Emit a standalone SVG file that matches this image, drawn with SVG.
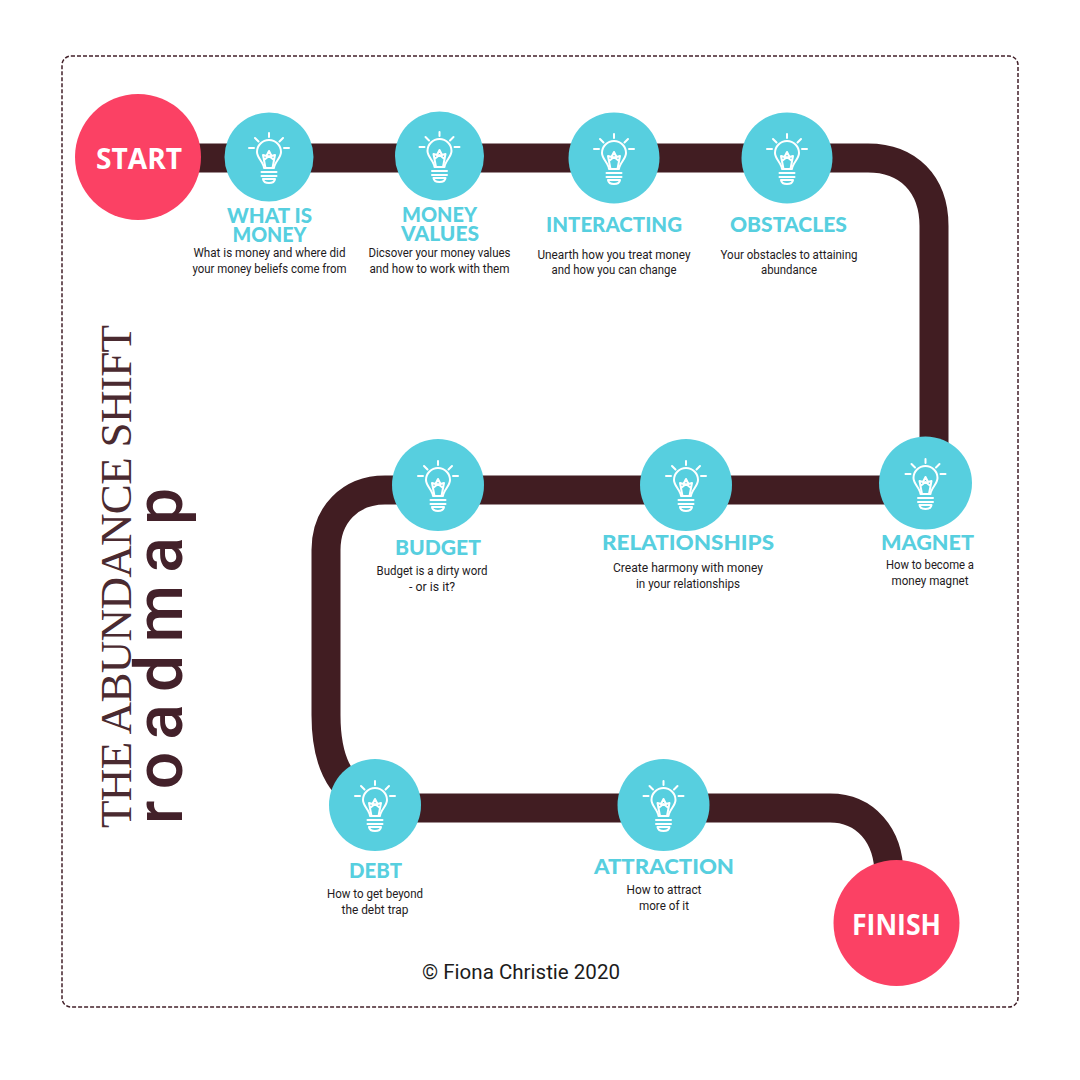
<svg xmlns="http://www.w3.org/2000/svg" xmlns:xlink="http://www.w3.org/1999/xlink" width="1080" height="1080" viewBox="0 0 1080 1080">
<style>
.h{font-family:"Lato","Liberation Sans",sans-serif;font-weight:900;font-size:20.500px;fill:#57cfdf;text-anchor:middle}
.s{font-family:"Roboto","Liberation Sans",sans-serif;font-size:12.500px;fill:#231a1c;text-anchor:middle}
.c{fill:#57cfdf}
.r{fill:#fb4164}
.rt{font-family:"Open Sans","Liberation Sans",sans-serif;font-weight:700;fill:#fff;text-anchor:middle;font-size:29px}
.b{fill:none;stroke:#fff;stroke-width:2;stroke-linecap:round;stroke-linejoin:round}
</style>
<defs>
<g id="bulb" class="b">
<path d="M-5,11 C-5.500,5 -12,1 -12,-5 A12,12 0 1 1 12,-5 C12,1 5.500,5 5,11 Z"/>
<path d="M-3.500,11 L-6,-2 L-2.500,-1 L0,-6 L2.500,-1 L6,-2 L3.500,11 M-5,3 L0,-1 L5,3"/>
<path d="M-7.500,15 H7.500 M-7.500,19 H7.500"/>
<path d="M-6,22 H6 C5.500,25 3,26 0,26 C-3,26 -5.500,25 -6,22 Z"/>
<path d="M0,-24 V-20 M-14,-19 L-10.500,-15.500 M14,-19 L10.500,-15.500 M-20,-9 H-15 M15,-9 H20"/>
</g>
</defs>
<rect width="1080" height="1080" fill="#fff"/>
<rect x="62" y="56" width="956" height="951" rx="9" fill="none" stroke="#43212a" stroke-width="1.500" stroke-dasharray="4 2"/>
<g id="connectors">
<path d="M140,158 H868 C908,158 934,184 934,226 V490 H385 C350,490 326,515 326,550 V715 C326,775 350,808 410,808 H830 C865,808 889,835 889,875" fill="none" stroke="#411d22" stroke-width="29"/>
</g>
<g id="start"><circle class="r" cx="138" cy="157" r="63"/><text class="rt" x="139" y="169" textLength="86" lengthAdjust="spacingAndGlyphs">START</text></g>
<g id="what-is-money"><circle class="c" cx="269" cy="157" r="44.500"/><use xlink:href="#bulb" href="#bulb" x="269" y="157"/><text class="h" x="269.500" y="223" textLength="85" lengthAdjust="spacingAndGlyphs">WHAT IS</text><text class="h" x="269.500" y="242" textLength="74" lengthAdjust="spacingAndGlyphs">MONEY</text><text class="s" x="269.500" y="257" textLength="152" lengthAdjust="spacingAndGlyphs">What is money and where did</text><text class="s" x="269.500" y="273" textLength="154" lengthAdjust="spacingAndGlyphs">your money beliefs come from</text></g>
<g id="money-values"><circle class="c" cx="439.500" cy="156" r="44.500"/><use xlink:href="#bulb" href="#bulb" x="439.500" y="156"/><text class="h" x="439.500" y="222" textLength="75" lengthAdjust="spacingAndGlyphs">MONEY</text><text class="h" x="440" y="241" textLength="78" lengthAdjust="spacingAndGlyphs">VALUES</text><text class="s" x="439.500" y="257" textLength="142" lengthAdjust="spacingAndGlyphs">Dicsover your money values</text><text class="s" x="439.500" y="273" textLength="140" lengthAdjust="spacingAndGlyphs">and how to work with them</text></g>
<g id="interacting"><circle class="c" cx="614" cy="158" r="45.500"/><use xlink:href="#bulb" href="#bulb" x="614" y="158"/><text class="h" x="614" y="232" textLength="136" lengthAdjust="spacingAndGlyphs">INTERACTING</text><text class="s" x="614" y="259" textLength="153" lengthAdjust="spacingAndGlyphs">Unearth how you treat money</text><text class="s" x="614" y="274" textLength="125" lengthAdjust="spacingAndGlyphs">and how you can change</text></g>
<g id="obstacles"><circle class="c" cx="787" cy="158" r="45.500"/><use xlink:href="#bulb" href="#bulb" x="787" y="158"/><text class="h" x="788.500" y="232" textLength="117" lengthAdjust="spacingAndGlyphs">OBSTACLES</text><text class="s" x="789" y="259" textLength="137" lengthAdjust="spacingAndGlyphs">Your obstacles to attaining</text><text class="s" x="789" y="274" textLength="56" lengthAdjust="spacingAndGlyphs">abundance</text></g>
<g id="magnet"><circle class="c" cx="925.500" cy="483" r="46.500"/><use xlink:href="#bulb" href="#bulb" x="925.500" y="483"/><text class="h" x="927.500" y="550" textLength="93" lengthAdjust="spacingAndGlyphs">MAGNET</text><text class="s" x="930" y="569" textLength="88" lengthAdjust="spacingAndGlyphs">How to become a</text><text class="s" x="930" y="585" textLength="77" lengthAdjust="spacingAndGlyphs">money magnet</text></g>
<g id="relationships"><circle class="c" cx="686" cy="485" r="46"/><use xlink:href="#bulb" href="#bulb" x="686" y="485"/><text class="h" x="688" y="550" textLength="172" lengthAdjust="spacingAndGlyphs">RELATIONSHIPS</text><text class="s" x="688" y="572" textLength="150" lengthAdjust="spacingAndGlyphs">Create harmony with money</text><text class="s" x="688" y="588" textLength="104" lengthAdjust="spacingAndGlyphs">in your relationships</text></g>
<g id="budget"><circle class="c" cx="438" cy="485" r="46"/><use xlink:href="#bulb" href="#bulb" x="438" y="485"/><text class="h" x="438" y="555" textLength="86" lengthAdjust="spacingAndGlyphs">BUDGET</text><text class="s" x="432" y="575" textLength="111" lengthAdjust="spacingAndGlyphs">Budget is a dirty word</text><text class="s" x="432" y="591" textLength="46" lengthAdjust="spacingAndGlyphs">- or is it?</text></g>
<g id="debt"><circle class="c" cx="375" cy="805" r="46"/><use xlink:href="#bulb" href="#bulb" x="375" y="805"/><text class="h" x="375.500" y="878" textLength="53" lengthAdjust="spacingAndGlyphs">DEBT</text><text class="s" x="375" y="898" textLength="96" lengthAdjust="spacingAndGlyphs">How to get beyond</text><text class="s" x="375" y="914" textLength="67" lengthAdjust="spacingAndGlyphs">the debt trap</text></g>
<g id="attraction"><circle class="c" cx="663.500" cy="805" r="46"/><use xlink:href="#bulb" href="#bulb" x="663.500" y="805"/><text class="h" x="664" y="874" textLength="140" lengthAdjust="spacingAndGlyphs">ATTRACTION</text><text class="s" x="664" y="894" textLength="75" lengthAdjust="spacingAndGlyphs">How to attract</text><text class="s" x="664" y="910" textLength="50" lengthAdjust="spacingAndGlyphs">more of it</text></g>
<g id="finish"><circle class="r" cx="896.500" cy="923" r="63"/><text class="rt" x="896.500" y="935" textLength="89" lengthAdjust="spacingAndGlyphs">FINISH</text></g>
<g id="title">
<text transform="translate(131,828) rotate(-90)" font-family="Liberation Serif,serif" font-size="45" fill="#4a2a30" textLength="503" lengthAdjust="spacing">THE ABUNDANCE SHIFT</text>
<text transform="translate(182,824) rotate(-90)" font-family="Roboto,sans-serif" font-weight="500" font-size="66" fill="#43212a" textLength="336" lengthAdjust="spacing">roadmap</text>
</g>
<text x="521" y="979" font-family="Roboto,Liberation Sans,sans-serif" font-size="20.500" fill="#1c1c1c" text-anchor="middle" textLength="198" lengthAdjust="spacingAndGlyphs">© Fiona Christie 2020</text>
</svg>
